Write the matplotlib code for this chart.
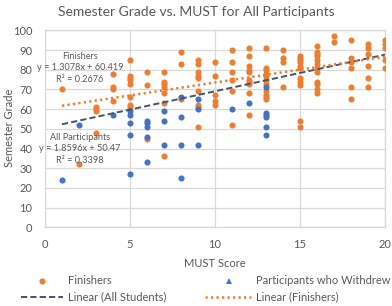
import matplotlib
matplotlib.use("Agg")
import matplotlib.pyplot as plt
from matplotlib.lines import Line2D

# ---- data ----
fin_must = ([1] + [2] + [3]*4 + [4]*4 + [5]*8 + [6]*3 + [7]*7 + [8]*3 + [9]*9 + [10]*5
            + [11]*6 + [12]*10 + [13]*11 + [14]*4 + [15]*11 + [16]*12 + [17]*2 + [18]*6
            + [19]*6 + [20]*5)
fin_grade = [70,
             32,
             61, 60, 59, 48,
             78, 71, 70, 64,
             85, 77, 76, 75, 73, 66, 62, 61,
             79, 72, 45,
             79, 74, 73, 71, 68, 63, 36,
             89, 83, 65,
             85, 83, 79, 77, 76, 69, 62, 61, 51,
             84, 77, 67, 64, 62,
             90, 84, 79, 75, 69, 52,
             91, 87, 82, 80, 79, 75, 74, 73, 68, 57,
             91, 81, 80, 78, 77, 75, 73, 69, 67, 66, 65,
             90, 86, 84, 71,
             87, 86, 85, 84, 82, 81, 76, 74, 72, 54, 51,
             92, 89, 88, 87, 85, 83, 81, 79, 74, 73, 70, 68,
             97, 94,
             95, 86, 84, 81, 71, 65,
             93, 91, 88, 82, 76, 71,
             95, 93, 91, 85, 81]

wd_must = [1, 2, 4] + [5]*5 + [6]*5 + [7]*3 + [8]*4 + [9]*3 + [11, 12] + [13]*6
wd_grade = [24, 52, 57,
            59, 57, 53, 47, 27,
            54, 53, 51, 46, 33,
            59, 54, 42,
            66, 56, 42, 25,
            65, 60, 42,
            60, 63,
            71, 58, 57, 56, 51, 47]

fin_fit = [1.3078, 60.419]   # slope, intercept (Finishers)
all_fit = [1.8596, 50.47]    # slope, intercept (All Participants)
fin_r2 = "0.2676"
all_r2 = "0.3398"
fit_range = [1, 20]

x_ticks = [0, 5, 10, 15, 20]
y_ticks = list(range(0, 101, 10))
legend_labels = ["Finishers", "Participants who Withdrew",
                 "Linear (All Students)", "Linear (Finishers)"]

# ---- style ----
ORANGE = "#ED7D31"
BLUE = "#4472C4"
NAVY = "#44546A"
GRAY = "#595959"
GRID = "#D9D9D9"
plt.rcParams['font.family'] = ['Lato', 'DejaVu Sans']

W, H = 392, 306
fig = plt.figure(figsize=(W/100, H/100), dpi=100)
ax = fig.add_axes([45/W, 1-227.4/H, 340/W, (227.4-30.3)/H])

MS = 4.4
ax.plot(fin_must, fin_grade, 'o', color=ORANGE, ms=MS, mew=0, zorder=3)
ax.plot(wd_must, wd_grade, 'o', color=BLUE, ms=MS, mew=0, zorder=3)

DASH = (3.2, 1.6)
DOT = (0.9, 1.3)
xs = fit_range
ax.plot(xs, [all_fit[0]*x + all_fit[1] for x in xs], color=NAVY, lw=1.4,
        dashes=DASH, zorder=4)
ax.plot(xs, [fin_fit[0]*x + fin_fit[1] for x in xs], color=ORANGE, lw=1.8,
        dashes=DOT, zorder=4)

ax.set_xlim(0, 20)
ax.set_ylim(0, 100)
ax.set_xticks(x_ticks)
ax.set_yticks(y_ticks)
ax.grid(True, color=GRID, lw=0.9)
ax.set_axisbelow(True)
for s in ax.spines.values():
    s.set_color(GRID)
    s.set_linewidth(0.9)
ax.tick_params(axis='y', length=0, labelsize=8, labelcolor=GRAY, pad=9)
ax.tick_params(axis='x', length=0, labelsize=8, labelcolor=GRAY, pad=8)

ax.set_xlabel("MUST Score", fontsize=8, color=GRAY, labelpad=6)
fig.text(10/W, 1-128/H, "Semester Grade", rotation=90, ha='center', va='center',
         fontsize=8, color=GRAY)
fig.text(0.5, 1-12/H, "Semester Grade vs. MUST for All Participants",
         ha='center', va='center', fontsize=10, color=GRAY)

ann = dict(ha='center', va='center', fontsize=6.6, color=GRAY, zorder=5)
ax.text(2.06, 86.5, "Finishers", **ann)
ax.text(2.06, 80.9, f"y = {fin_fit[0]}x + {fin_fit[1]}", **ann)
ax.text(2.06, 74.8, f"R² = {fin_r2}", **ann)
ax.text(2.06, 45.4, "All Participants", **ann)
ax.text(2.06, 39.8, f"y = {all_fit[0]}x + {all_fit[1]}", **ann)
ax.text(2.06, 33.7, f"R² = {all_r2}", **ann)

# ---- legend, laid out by hand in figure pixels ----
def fx(px):
    return px / W

def fy(py):
    return 1 - py / H

tf = fig.transFigure
r1, r2 = 281, 297
fig.add_artist(Line2D([fx(42)], [fy(r1)], ls='none', marker='o', color=ORANGE,
                      ms=MS, mew=0, transform=tf))
fig.add_artist(Line2D([fx(229)], [fy(r1)], ls='none', marker='^', color=BLUE,
                      ms=MS, mew=0, transform=tf))
fig.add_artist(Line2D([fx(21), fx(63)], [fy(r2), fy(r2)], color=NAVY, lw=1.4,
                      dashes=DASH, transform=tf))
fig.add_artist(Line2D([fx(205), fx(251)], [fy(r2), fy(r2)], color=ORANGE, lw=1.8,
                      dashes=DOT, transform=tf))
lt = dict(ha='left', va='center', fontsize=8, color=GRAY)
fig.text(fx(68), fy(r1), legend_labels[0], **lt)
fig.text(fx(256), fy(r1), legend_labels[1], **lt)
fig.text(fx(68), fy(r2), legend_labels[2], **lt)
fig.text(fx(256), fy(r2), legend_labels[3], **lt)

fig.savefig("out.png", dpi=100)
